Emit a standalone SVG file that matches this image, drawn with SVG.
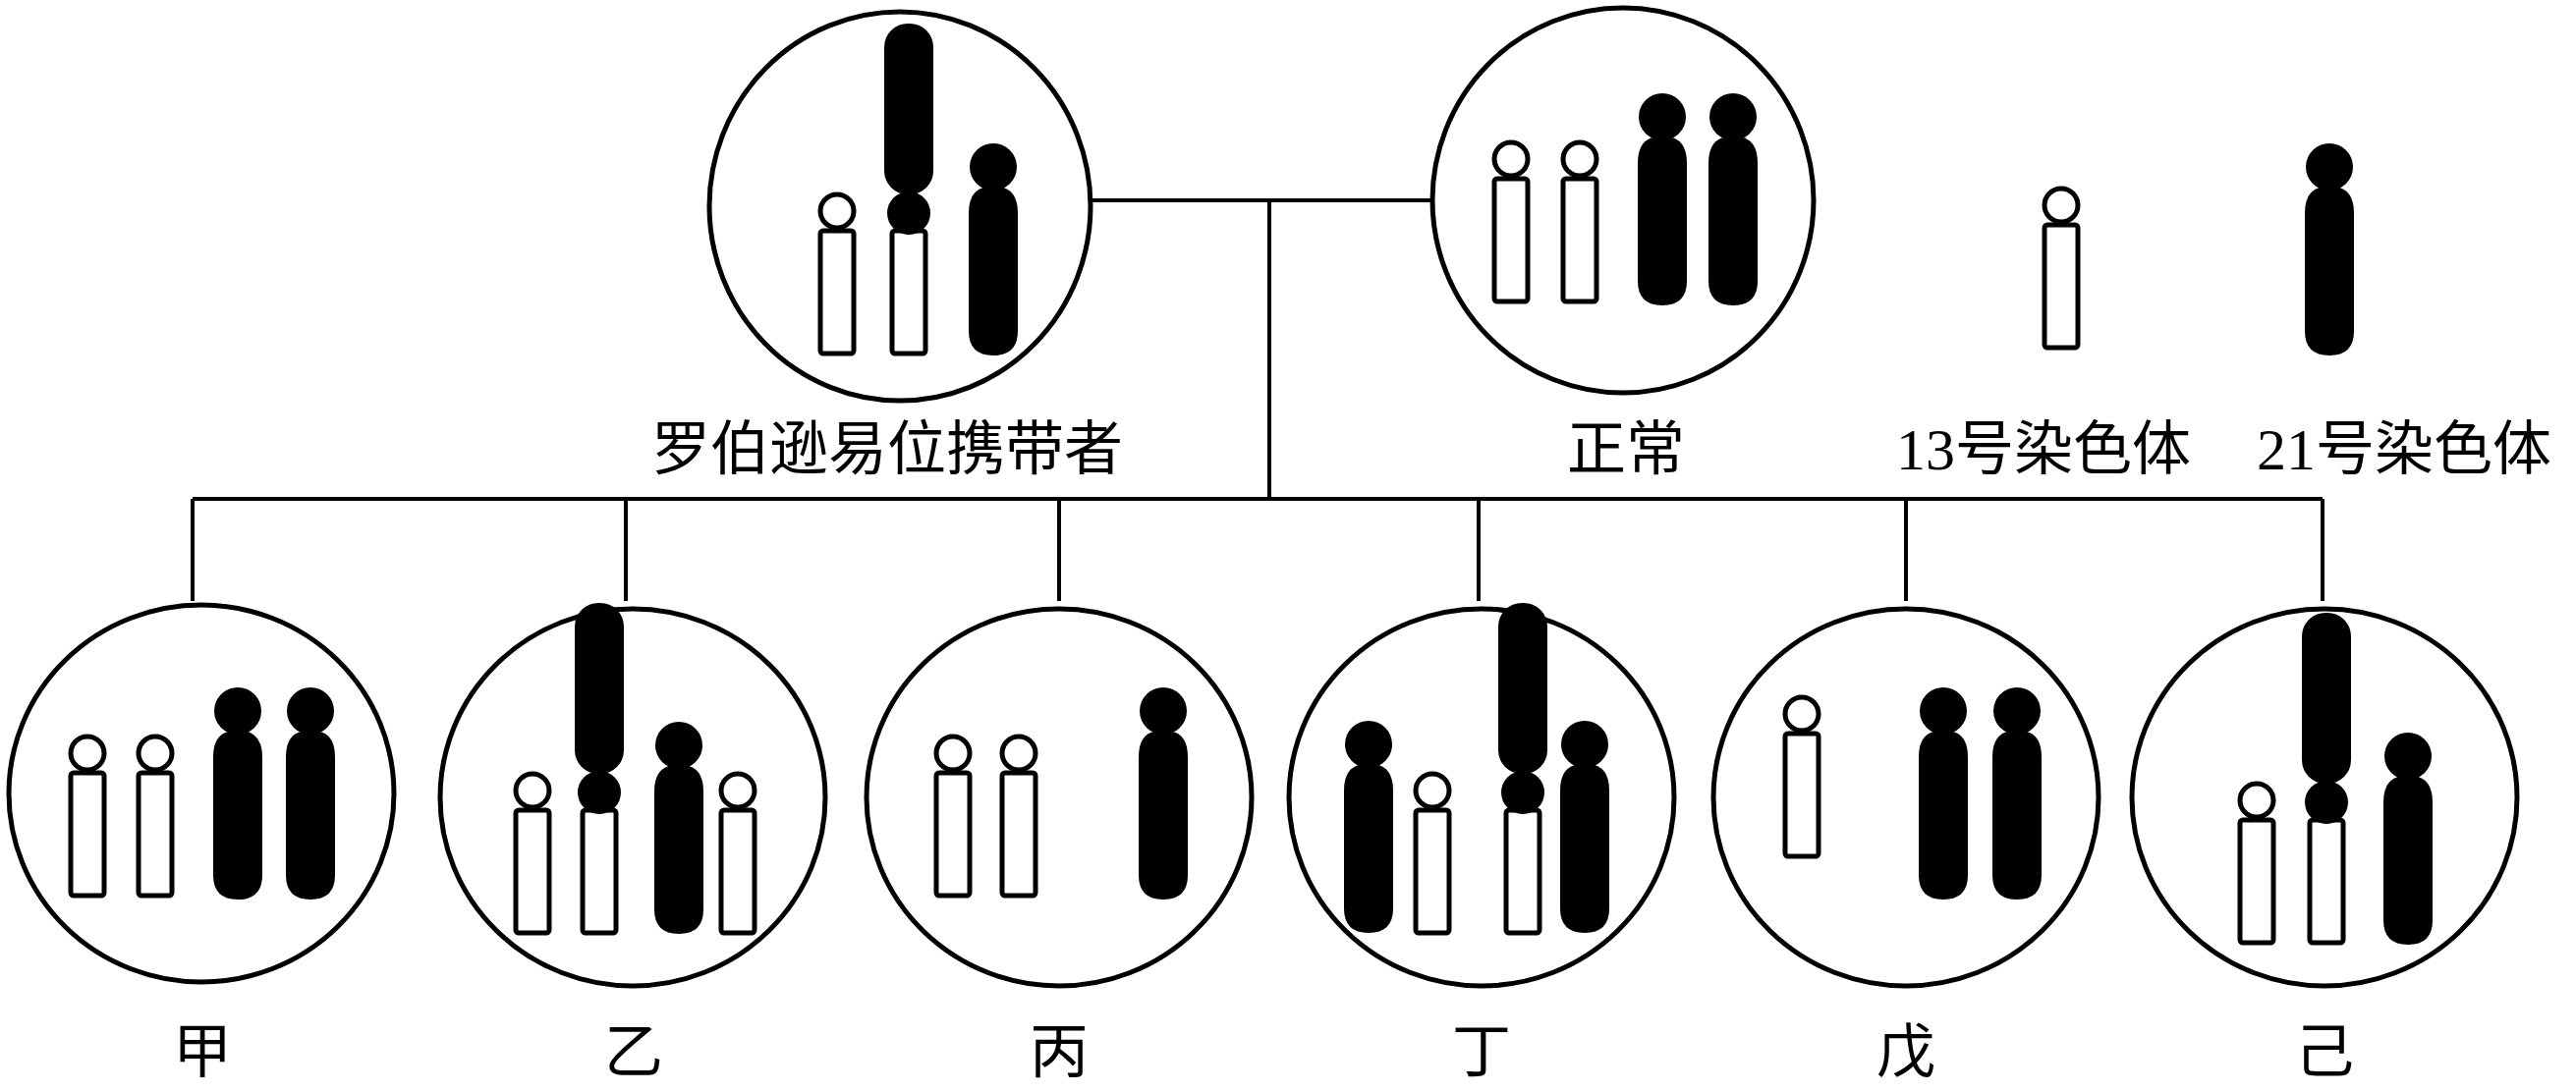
<svg xmlns="http://www.w3.org/2000/svg" xmlns:xlink="http://www.w3.org/1999/xlink" width="2622" height="1112" viewBox="0 0 2622 1112">
<style>
.cell{fill:#fff;stroke:#000;stroke-width:5}
.ln{fill:none;stroke:#000;stroke-width:4}
.lab{font-family:"Liberation Serif","Noto Sans CJK SC",serif;font-size:60px;fill:#000;text-anchor:middle}
</style>
<defs>
<g id="w13">
<rect x="-17" y="-125" width="34" height="125" rx="3" fill="#fff" stroke="#000" stroke-width="5"/>
<circle cx="0" cy="-145" r="17" fill="#fff" stroke="#000" stroke-width="5"/>
</g>
<g id="b21">
<path d="M-25,-145 Q-25,-170 -5,-172 L5,-172 Q25,-170 25,-145 L25,-25 Q25,0 0,0 Q-25,0 -25,-25 Z" fill="#000"/>
<ellipse cx="0" cy="-192" rx="24" ry="24" fill="#000"/>
</g>
<g id="tr">
<rect x="-17" y="-125" width="34" height="125" rx="3" fill="#fff" stroke="#000" stroke-width="5"/>
<ellipse cx="0" cy="-143" rx="22" ry="22" fill="#000"/>
<rect x="-25" y="-336" width="50" height="174" rx="24" fill="#000"/>
</g>
</defs>
<g id="connectors">
<path class="ln" d="M1108,204 H1458 M1292,204 V508 M196,508 H2364 M196,508 V612 M637,508 V612 M1078,508 V612 M1505,508 V612 M1940,508 V612 M2364,508 V612"/>
</g>
<g id="carrier">
<ellipse class="cell" cx="916" cy="210" rx="194" ry="198"/>
<use href="#w13" x="852" y="360"/>
<use href="#tr" x="925" y="360"/>
<use href="#b21" x="1011" y="362"/>
<text class="lab" x="903" y="478">罗伯逊易位携带者</text>
</g>
<g id="normal">
<ellipse class="cell" cx="1652" cy="204" rx="194" ry="196"/>
<use href="#w13" x="1538" y="307"/>
<use href="#w13" x="1608" y="307"/>
<use href="#b21" x="1692" y="311"/>
<use href="#b21" x="1764" y="311"/>
<text class="lab" x="1655" y="478">正常</text>
</g>
<g id="legend13">
<use href="#w13" x="2098" y="354"/>
<text class="lab" x="2080" y="478">13号染色体</text>
</g>
<g id="legend21">
<use href="#b21" x="2371" y="362"/>
<text class="lab" x="2447" y="478">21号染色体</text>
</g>
<g id="jia">
<ellipse class="cell" cx="205" cy="808" rx="196" ry="192"/>
<use href="#w13" x="89" y="912"/>
<use href="#w13" x="158" y="912"/>
<use href="#b21" x="242" y="916"/>
<use href="#b21" x="316" y="916"/>
<text class="lab" x="206" y="1092">甲</text>
</g>
<g id="yi">
<ellipse class="cell" cx="644" cy="812" rx="196" ry="192"/>
<use href="#w13" x="542" y="950"/>
<use href="#tr" x="610" y="950"/>
<use href="#b21" x="691" y="951"/>
<use href="#w13" x="751" y="950"/>
<text class="lab" x="645" y="1092">乙</text>
</g>
<g id="bing">
<ellipse class="cell" cx="1078" cy="812" rx="196" ry="192"/>
<use href="#w13" x="970" y="912"/>
<use href="#w13" x="1037" y="912"/>
<use href="#b21" x="1184" y="916"/>
<text class="lab" x="1078" y="1092">丙</text>
</g>
<g id="ding">
<ellipse class="cell" cx="1508" cy="812" rx="196" ry="192"/>
<use href="#b21" x="1393" y="950"/>
<use href="#w13" x="1458" y="950"/>
<use href="#tr" x="1550" y="950"/>
<use href="#b21" x="1613" y="950"/>
<text class="lab" x="1508" y="1092">丁</text>
</g>
<g id="wu">
<ellipse class="cell" cx="1940" cy="812" rx="196" ry="192"/>
<use href="#w13" x="1834" y="872"/>
<use href="#b21" x="1978" y="916"/>
<use href="#b21" x="2053" y="916"/>
<text class="lab" x="1940" y="1092">戊</text>
</g>
<g id="ji">
<ellipse class="cell" cx="2366" cy="812" rx="196" ry="192"/>
<use href="#w13" x="2297" y="960"/>
<use href="#tr" x="2368" y="960"/>
<use href="#b21" x="2451" y="962"/>
<text class="lab" x="2366" y="1092">己</text>
</g>
</svg>
